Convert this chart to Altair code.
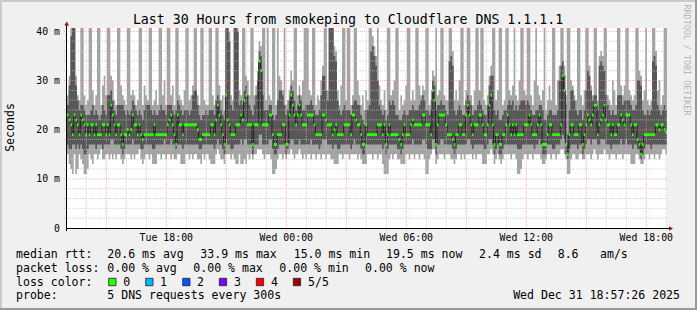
import altair as alt
import pandas as pd

# ---------------- data (ms), one value per 5-minute step ----------------
START_HOUR = 13.035          # Tue 13:02 (hours since Tue 00:00)
STEP_HOURS = 1 / 12          # 5 minutes

ping_min = [
    15,13,12,11,15,11,12,15,14,13,11,11, 12,15,14,13,15,15,14,15,16,14,14,15,
    15,14,15,14,15,14,15,15,14,13,14,15, 15,15,14,15,14,15,15,16,14,13,14,15,
    15,14,15,13,13,13,15,15,14,15,15,14, 15,15,14,15,14,14,15,15,13,13,13,15,
    15,14,15,14,15,15,14,14,13,15,14,15, 15,14,13,13,13,15,16,15,14,14,13,15,
    15,15,14,15,14,13,13,15,13,13,14,13, 15,14,15,14,15,15,16,16,16,15,14,15,
    15,15,14,11,11,12,14,15,15,14,15,14, 15,15,16,15,14,15,15,16,15,14,15,14,
    15,15,14,15,15,14,15,15,14,15,15,14, 15,15,14,14,13,13,13,15,15,14,15,15,
    15,14,15,15,15,15,14,15,14,13,13,13, 15,15,15,14,15,15,14,15,15,13,11,11,
    11,14,15,14,15,15,14,14,13,13,13,15, 15,14,15,15,14,15,15,14,15,15,14,11,
    11,14,15,16,16,13,14,15,15,15,14,15, 15,15,14,14,13,14,15,15,14,15,14,15,
    15,15,15,14,15,14,15,15,15,13,13,13, 15,15,16,15,13,14,15,14,13,14,15,15,
    15,15,14,15,15,14,11,11,12,14,15,15, 14,15,15,14,15,15,15,15,14,13,13,14,
    15,15,14,15,15,14,15,15,16,16,15,14, 11,11,14,15,15,14,14,15,15,14,14,15,
    15,15,14,15,16,15,14,15,15,15,16,15, 15,14,15,15,15,14,15,15,15,14,15,15,
    15,15,13,13,13,15,15,14,13,13,14,15, 15,14,15,15,14,15,15,14,15,16,16,15,
]
ping_2 = [
    17,16,16,17,17,16,17,16,17,16,15,15, 16,17,17,17,17,16,17,17,17,16,17,17,
    17,17,18,18,17,17,17,17,16,15,16,17, 17,17,17,18,17,17,17,17,16,16,17,17,
    17,17,17,16,16,17,17,17,17,17,18,17, 17,17,18,17,17,16,17,17,17,16,17,17,
    17,17,17,17,17,17,17,16,16,17,17,17, 17,17,17,17,16,17,18,17,17,16,15,18,
    17,17,16,16,17,17,17,17,18,17,18,18, 17,17,17,15,17,17,17,19,19,17,17,17,
    17,18,18,16,15,15,16,17,17,17,17,15, 16,17,18,18,17,17,17,18,17,17,17,17,
    17,17,18,17,17,17,17,16,17,18,18,18, 17,17,17,16,17,17,16,16,17,17,17,17,
    17,17,16,17,18,17,17,17,16,15,15,17, 17,17,17,17,17,17,17,17,17,16,17,15,
    16,17,17,17,17,17,16,16,15,16,17,17, 17,17,17,18,17,17,17,17,17,18,18,17,
    16,16,16,18,18,15,17,17,18,18,17,17, 17,17,17,16,15,16,17,17,17,17,17,17,
    18,18,17,16,17,17,17,17,17,17,16,16, 17,18,18,17,15,16,17,15,15,16,17,17,
    17,17,17,17,17,17,16,16,16,17,17,17, 17,17,17,17,16,17,17,18,17,15,15,15,
    17,17,17,16,16,17,17,17,18,19,18,15, 14,16,17,17,17,17,16,17,17,15,16,17,
    18,18,17,18,18,18,17,17,18,18,18,17, 17,17,16,17,17,17,17,17,18,17,17,18,
    17,17,17,16,17,17,16,16,14,15,16,17, 17,17,16,17,17,17,17,17,17,17,17,17,
]
median = [
    23,22,21,19,23,22,21,19,23,22,21,19, 21,19,21,21,19,21,19,19,19,21,21,19,
    21,19,25,23,21,19,21,21,19,17,19,19, 20,19,20,23,21,21,19,21,19,18,19,19,
    19,19,19,19,21,19,19,19,19,19,19,19, 21,22,23,21,19,17,23,21,21,19,21,21,
    21,21,21,21,21,21,20,18,18,19,19,19, 19,19,21,21,19,22,25,23,21,19,17,27,
    22,21,19,19,19,21,21,21,23,22,26,27, 21,21,21,17,21,21,21,33.9,32,21,21,21,
    21,23,23,19,17,17,19,19,19,21,21,17, 17,23,27,25,23,21,23,25,23,21,21,21,
    23,23,23,23,21,19,19,19,19,23,23,22, 21,21,21,19,20,21,19,19,19,19,21,21,
    21,21,19,23,23,22,21,21,19,17,17,21, 19,19,19,19,19,19,21,21,21,19,21,17,
    19,21,19,19,19,19,19,18,17,19,21,19, 19,19,21,22,21,21,21,21,21,23,23,21,
    21,21,19,28,26,17,21,23,23,23,23,21, 19,19,19,18,17,19,19,21,21,19,19,23,
    25,23,21,19,21,21,21,23,23,21,19,19, 21,25,27,21,17,19,19,17,17,19,19,21,
    23,21,19,21,19,21,19,19,19,19,21,21, 21,23,21,19,19,19,21,23,21,17,17,17,
    19,21,21,19,19,19,19,19,21,31,28,17, 15,19,21,21,19,19,19,21,21,17,19,21,
    23,22,21,23,25,25,19,21,22,23,25,22, 21,21,19,21,19,19,21,21,23,22,21,23,
    23,23,21,19,21,21,18,17,15,17,19,19, 19,19,19,19,19,21,21,20,21,21,20,19.5,
]
ping_4 = [
    25,29,39,45,42,29,26,24,25,25,24,23, 23,23,24,25,23,24,23,22,23,25,24,23,
    27,27,28,26,24,23,25,25,25,25,24,23, 24,23,24,26,25,24,23,24,23,22,24,25,
    25,25,24,23,24,23,23,24,25,24,24,23, 25,25,25,24,23,24,26,25,24,23,24,24,
    24,23,24,27,28,28,25,23,22,23,23,24, 23,24,24,24,23,26,27,26,24,23,22,42,
    44,38,25,24,45,43,40,25,26,25,28,29, 27,25,24,23,25,27,30,36,35,27,24,24,
    24,25,25,23,22,23,26,28,28,27,25,23, 24,26,29,28,26,24,25,27,26,24,24,25,
    25,25,26,25,24,23,23,24,27,31,31,28, 26,43,45,42,35,34,26,24,23,24,25,24,
    24,24,23,25,26,26,25,25,23,22,21,24, 24,25,36,37,35,33,30,25,24,23,24,22,
    23,26,25,26,25,23,23,22,22,23,24,23, 23,24,24,25,24,24,24,25,26,27,26,24,
    24,23,24,30,29,24,25,25,26,25,25,24, 23,34,35,33,24,23,24,25,24,23,23,26,
    27,26,25,23,24,24,25,26,25,24,23,23, 25,29,31,31,24,23,24,22,22,23,24,24,
    25,26,25,26,24,25,24,25,26,26,26,25, 26,25,24,23,23,24,24,25,25,24,22,22,
    23,24,24,23,23,23,24,30,33,34,31,25, 19,24,28,28,26,24,23,24,24,22,24,28,
    32,31,28,26,27,27,24,33,34,33,32,27, 25,24,23,24,23,23,27,27,27,25,26,26,
    26,26,25,24,24,25,30,30,29,24,23,23, 24,23,24,34,35,33,25,24,23,24,25,24,
]
ping_max = [
    27,31,41,50,50,31,27,26,50,50,27,25, 26,50,50,28,25,27,50,50,25,29,31,27,
    50,50,31,30,26,25,50,50,29,27,26,25, 50,50,27,28,27,25,26,50,50,25,29,27,
    26,50,50,25,26,28,25,50,50,27,30,25, 50,50,27,29,25,50,50,27,26,25,28,50,
    50,26,27,29,50,50,27,25,50,50,26,25, 25,50,50,27,25,50,50,29,26,27,24,50,
    50,40,27,26,50,50,44,28,27,50,50,31, 30,27,50,50,27,29,32,38,37,50,50,26,
    50,27,26,50,50,25,50,31,30,28,50,25, 26,28,32,30,50,50,27,29,27,30,50,50,
    50,28,27,50,50,25,27,26,30,33,50,50, 28,50,50,46,37,36,28,25,29,50,50,26,
    50,50,25,27,50,50,30,27,25,27,24,28, 26,50,50,39,37,35,50,29,26,25,28,24,
    50,50,27,28,30,50,50,24,27,25,26,29, 50,50,26,28,26,50,50,29,27,29,28,50,
    50,25,26,32,31,50,27,28,50,50,27,26, 26,50,50,36,26,28,26,30,50,50,25,28,
    50,50,27,25,28,50,50,28,50,50,26,25, 27,31,33,50,50,26,28,50,50,25,26,50,
    50,28,27,29,50,27,26,30,50,50,28,27, 50,50,27,25,30,50,29,27,26,28,50,24,
    26,29,26,50,50,25,30,33,50,50,33,27, 50,50,30,29,27,26,50,50,27,25,28,50,
    50,33,29,27,50,50,26,35,36,35,50,50, 27,26,25,30,28,25,50,50,29,27,29,50,
    50,28,27,26,27,50,50,32,31,26,28,50, 26,25,26,50,50,36,28,30,25,27,50,50,
]

y_tick_values = [0, 10, 20, 30, 40]
y_tick_labels = ["0", "10 m", "20 m", "30 m", "40 m"]
x_tick_hours = [18, 24, 30, 36, 42]
x_tick_labels = ["Tue 18:00", "Wed 00:00", "Wed 06:00", "Wed 12:00", "Wed 18:00"]
minor_grid_ms = [2, 4, 6, 8, 12, 14, 16, 18, 22, 24, 26, 28, 32, 34, 36, 38]
major_grid_ms = [10, 20, 30, 40]
minor_grid_hours = [14, 16, 17, 19, 20, 22, 23, 25, 26, 28, 29, 31, 32, 34, 35, 37, 38, 40, 41, 43]
major_grid_hours = [15, 18, 21, 24, 27, 30, 33, 36, 39, 42]

title_text = "Last 30 Hours from smokeping to Cloudflare DNS 1.1.1.1"
legend_rows = [
    [("median rtt:", 16), ("20.6 ms avg", 107.3), ("33.9 ms max", 200.3), ("15.0 ms min", 293.7),
     ("19.5 ms now", 386), ("2.4 ms sd", 479), ("8.6", 557.7), ("am/s", 600)],
    [("packet loss:", 16), ("0.00 % avg", 107.3), ("0.00 % max", 193.3), ("0.00 % min", 279.3),
     ("0.00 % now", 365)],
    [("loss color:", 16)],
    [("probe:", 16), ("5 DNS requests every 300s", 107.3)],
]
loss_labels = ["0", "1", "2", "3", "4", "5/5"]
loss_colors = ["#26ff00", "#00b8ff", "#0059ff", "#7e00ff", "#ff0000", "#a10000"]
date_text = "Wed Dec 31 18:57:26 2025"

# ---------------- layout / style ----------------
OX, OY = 67, 28              # plot origin in the page
W, H = 600, 200
YMAX = 40.69
FONT = "DejaVu Sans Mono"
LEGEND_BASE = [258.3, 272.0, 285.7, 299.0]
box_x = [108.7, 145.7, 182.7, 219.3, 256.3, 293.3]
box_label_x = [123.3, 160.0, 197.0, 234.0, 271.0, 308.0]
MED_HALF = 0.3

n = len(median)
hours = [START_HOUR + i * STEP_HOURS for i in range(n + 1)]


def ext(a):
    return list(a) + [a[-1]]


df = pd.DataFrame({
    "h": hours, "mn": ext(ping_min), "p2": ext(ping_2), "med": ext(median),
    "p4": ext(ping_4), "mx": ext(ping_max),
})
df["gl"] = df["med"] - MED_HALF
df["gh"] = df["med"] + MED_HALF

xs = alt.Scale(domain=[START_HOUR, START_HOUR + 30], nice=False, zero=False)
ys = alt.Scale(domain=[0, YMAX], nice=False, zero=True)
X = alt.X("h:Q", scale=xs, axis=None)

base = alt.Chart(df)
light = base.mark_area(interpolate="step-after", color="#a4a4a4", clip=True).encode(
    x=X, y=alt.Y("mn:Q", scale=ys, axis=None), y2="mx:Q")
dark = base.mark_area(interpolate="step-after", color="#585858", clip=True).encode(
    x=X, y=alt.Y("p2:Q", scale=ys, axis=None), y2="p4:Q")
medline = base.mark_line(interpolate="step-after", color="#202020", strokeWidth=1, clip=True).encode(
    x=X, y=alt.Y("med:Q", scale=ys, axis=None))
green = base.mark_area(interpolate="step-after", color="#26ff00", clip=True).encode(
    x=X, y=alt.Y("gl:Q", scale=ys, axis=None), y2="gh:Q")


def hrules(vals, color, op):
    return alt.Chart(pd.DataFrame({"v": vals})).mark_rule(
        color=color, strokeDash=[1, 1], strokeWidth=1, opacity=op).encode(
        y=alt.Y("v:Q", scale=ys, axis=None), x=alt.value(-3), x2=alt.value(W))


def vrules(vals, color, op):
    return alt.Chart(pd.DataFrame({"v": vals})).mark_rule(
        color=color, strokeDash=[1, 1], strokeWidth=1, opacity=op).encode(
        x=alt.X("v:Q", scale=xs, axis=None), y=alt.value(0), y2=alt.value(H + 3))


grid = [hrules(minor_grid_ms, "#c0c0c0", 0.7), vrules(minor_grid_hours, "#c0c0c0", 0.7),
        hrules(major_grid_ms, "#ff8080", 0.6), vrules(major_grid_hours, "#ff8080", 0.6)]

one = pd.DataFrame({"a": [0]})


def ptext(txt, x, y, size=11.55, align="left", baseline="alphabetic", angle=0, color="#000000"):
    return alt.Chart(one).mark_text(
        font=FONT, fontSize=size, align=align, baseline=baseline, angle=angle, color=color).encode(
        x=alt.value(x - OX), y=alt.value(y - OY), text=alt.value(txt))


axes = [
    alt.Chart(one).mark_rule(color="#000000", strokeWidth=1).encode(
        x=alt.value(0), x2=alt.value(W + 2), y=alt.value(H + 0.5)),
    alt.Chart(one).mark_rule(color="#000000", strokeWidth=1).encode(
        x=alt.value(-0.5), y=alt.value(H + 3), y2=alt.value(-3)),
    alt.Chart(one).mark_point(shape="triangle-right", filled=True, color="#a01010", size=22, opacity=1).encode(
        x=alt.value(W + 4), y=alt.value(H + 0.5)),
    alt.Chart(one).mark_point(shape="triangle-up", filled=True, color="#a01010", size=22, opacity=1).encode(
        x=alt.value(-0.3), y=alt.value(-4.5)),
]

ylab = alt.Chart(pd.DataFrame({"v": y_tick_values, "t": y_tick_labels})).mark_text(
    font=FONT, fontSize=9.9, align="right", baseline="alphabetic", dy=3.6, color="#000000").encode(
    y=alt.Y("v:Q", scale=ys, axis=None), x=alt.value(-7), text="t:N")
xlab = alt.Chart(pd.DataFrame({"v": x_tick_hours, "t": x_tick_labels})).mark_text(
    font=FONT, fontSize=9.9, align="center", baseline="alphabetic", color="#000000").encode(
    x=alt.X("v:Q", scale=xs, axis=None), y=alt.value(241 - OY), text="t:N")

texts = [
    ptext(title_text, 348, 24, size=13.24, align="center"),
    ptext("Seconds", 11, 127.5, size=11.55, align="center", baseline="middle", angle=270),
    ptext("RRDTOOL / TOBI OETIKER", 687, 60, size=8.4, align="center", baseline="middle", angle=90,
          color="#b4b4b4"),
    ptext(date_text, 680, LEGEND_BASE[3], align="right"),
]
for row, items in enumerate(legend_rows):
    for txt, x in items:
        texts.append(ptext(txt, x, LEGEND_BASE[row]))
for lab, bx, lx, col in zip(loss_labels, box_x, box_label_x, loss_colors):
    texts.append(alt.Chart(one).mark_rect(color=col, stroke="#202020", strokeWidth=0.8).encode(
        x=alt.value(bx - OX), x2=alt.value(bx + 7.3 - OX),
        y=alt.value(278.3 - OY), y2=alt.value(285.7 - OY)))
    texts.append(ptext(lab, lx, LEGEND_BASE[2]))

borders = [
    alt.Chart(one).mark_rule(color="#cbcbcb", strokeWidth=2).encode(
        x=alt.value(-OX), x2=alt.value(697 - OX), y=alt.value(1 - OY)),
    alt.Chart(one).mark_rule(color="#cbcbcb", strokeWidth=2).encode(
        x=alt.value(1 - OX), y=alt.value(-OY), y2=alt.value(310 - OY)),
    alt.Chart(one).mark_rule(color="#999999", strokeWidth=2).encode(
        x=alt.value(696 - OX), y=alt.value(-OY), y2=alt.value(310 - OY)),
    alt.Chart(one).mark_rule(color="#999999", strokeWidth=2).encode(
        x=alt.value(-OX), x2=alt.value(697 - OX), y=alt.value(309 - OY)),
]

chart = alt.layer(light, dark, medline, green, *grid, *axes, ylab, xlab, *texts, *borders).properties(
    width=W, height=H,
    padding={"left": OX, "top": OY, "right": 697 - OX - W, "bottom": 310 - OY - H},
    autosize=alt.AutoSizeParams(type="none"),
    background="#f0f0f0",
).configure_view(fill="#ffffff", stroke=None)

chart.save("out.html", embed_options={"renderer": "svg", "actions": False})
